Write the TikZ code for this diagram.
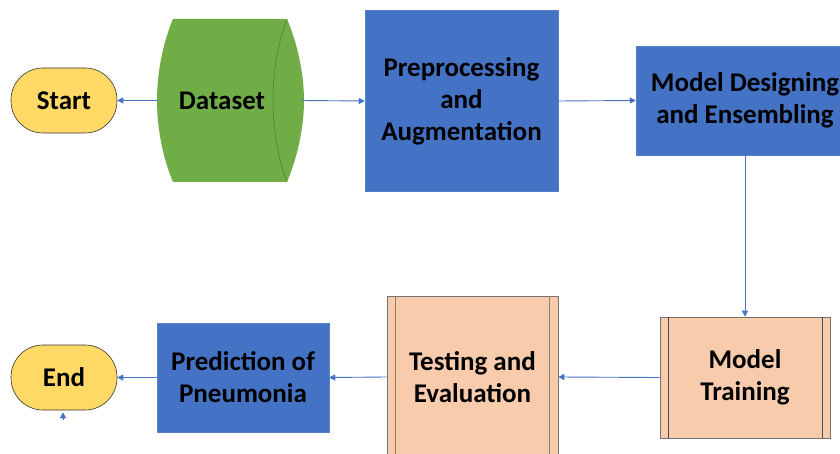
\documentclass[tikz,border=0pt]{standalone}
\usepackage{fontspec}
\setmainfont{Carlito}
\usetikzlibrary{arrows.meta}
\definecolor{fyellow}{HTML}{FFD966}
\definecolor{fgreen}{HTML}{70AD47}
\definecolor{fblue}{HTML}{4472C4}
\definecolor{fsalmon}{HTML}{F8CBAD}
\definecolor{fline}{HTML}{4472C4}
\definecolor{fedge}{HTML}{5B7FC7}
\begin{document}
\begin{tikzpicture}[x=1pt,y=-1pt,
  every node/.style={font=\fontsize{27}{32}\selectfont\bfseries, align=center, inner sep=0pt},
  term/.style={draw=black!80, line width=0.6pt, fill=fyellow, rounded corners=32pt, minimum width=106pt, minimum height=65pt},
  bluebox/.style={draw=fedge, line width=0.5pt, fill=fblue},
  salbox/.style={draw=black!55, line width=0.6pt, fill=fsalmon},
  conn/.style={draw=fline, line width=0.9pt, -{Triangle[length=6pt,width=6pt]}}
]
\clip (0,0) rectangle (840,454);
\fill[white] (0,0) rectangle (840,454);

% Start / End
\node[term] (start) at (64,100.5) {Start};
\node[term] (end) at (64,377.5) {End};

% Dataset (horizontal cylinder)
\fill[fgreen] (173,19) -- (287,19) .. controls (298,45) and (304,75) .. (304,100.5)
  .. controls (304,126) and (298,156) .. (287,182) -- (173,182)
  .. controls (162,156) and (157,126) .. (157,100.5)
  .. controls (157,75) and (162,45) .. (173,19) -- cycle;
\draw[fgreen!70!black, line width=0.5pt] (287,19) .. controls (277,45) and (273,75) .. (273,100.5)
  .. controls (273,126) and (277,156) .. (287,182);
\node[minimum width=147pt, minimum height=163pt] (dataset) at (230.5,100.5) {};
\node at (222,101) {Dataset};

% Blue boxes
\node[bluebox, minimum width=193pt, minimum height=181pt] (prep) at (461.5,101) {Preprocessing\\and\\Augmentation};
\node[bluebox, minimum width=218pt, minimum height=109pt] (design) at (745,100.5) {Model Designing\\and Ensembling};
\node[bluebox, minimum width=172pt, minimum height=109pt] (pred) at (243,377.5) {Prediction of\\Pneumonia};

% Salmon boxes
\node[salbox, minimum width=170pt, minimum height=121pt] (train) at (745,377.5) {Model\\Training};
\draw[black!70, line width=0.6pt] ([xshift=8.5pt]train.north west) -- ([xshift=8.5pt]train.south west)
  ([xshift=-8.5pt]train.north east) -- ([xshift=-8.5pt]train.south east);
\node[salbox, minimum width=171pt, minimum height=162pt] (test) at (472.5,377) {Testing and\\Evaluation};
\draw[black!40!fsalmon, line width=0.6pt] ([xshift=9pt]test.north west) -- ([xshift=9pt]test.south west)
  ([xshift=-9pt]test.north east) -- ([xshift=-9pt]test.south east);

% Connectors
\draw[conn] (dataset.west) -- (start.east);
\draw[conn] ([xshift=-2pt]dataset.east) -- (prep.west);
\draw[conn] (prep.east) -- (design.west);
\draw[conn] (design.south -| train.north) -- (train.north);
\draw[conn] (train.west) -- (test.east);
\draw[conn] (test.west) -- (pred.east);
\draw[conn] (pred.west) -- (end.east);
\coordinate (stub) at (63,420);
\draw[conn] (stub) -- ([yshift=-2pt]end.south -| stub);
\end{tikzpicture}
\end{document}
